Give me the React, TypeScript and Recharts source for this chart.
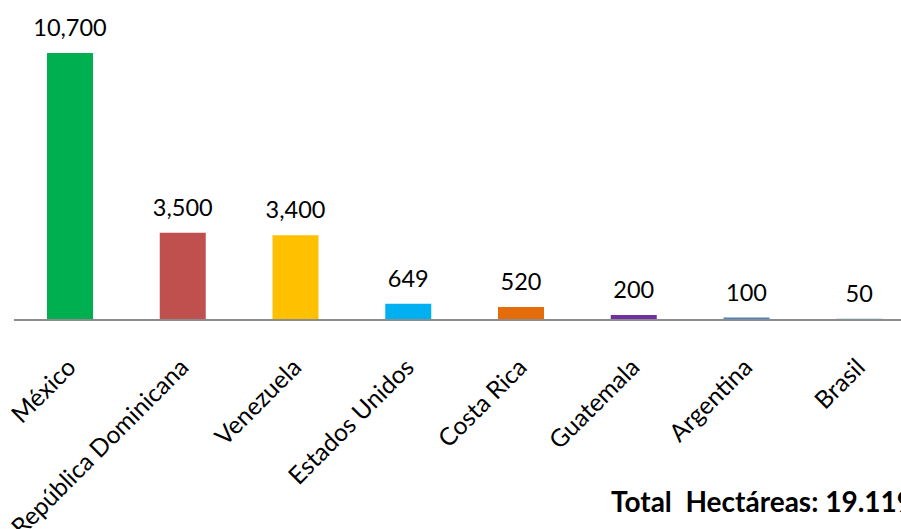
import React from 'react';
import { BarChart, Bar, XAxis, YAxis, Cell, LabelList } from 'recharts';

const countries = [
    'México', 'República Dominicana', 'Venezuela', 'Estados Unidos',
    'Costa Rica', 'Guatemala', 'Argentina', 'Brasil'
];
const hectares = [10700, 3500, 3400, 649, 520, 200, 100, 50];
const barColors = [
    '#00B050', '#C0504D', '#FFC000', '#00B0F0',
    '#E46C0A', '#7030A0', '#4F81BD', '#4BACC6'
];

const FONT = 'Lato, "Open Sans", sans-serif';

const data = countries.map((name, i) => ({ name, value: hectares[i] }));

const CountryTick = ({ x, y, payload }: any) => (
    <text
        x={x + 7}
        y={y + 41}
        transform={`rotate(-45, ${x + 7}, ${y + 41})`}
        textAnchor="end"
        fontSize={24.5}
        fontFamily={FONT}
        fill="#000"
    >
        {payload.value}
    </text>
);

const ValueLabel = ({ x, y, width, value }: any) => (
    <text
        x={x + width / 2}
        y={y - 17}
        textAnchor="middle"
        fontSize={23.5}
        fontFamily={FONT}
        fill="#000"
    >
        {Number(value).toLocaleString('en-US')}
    </text>
);

export default function App() {
    return (
        <div style={{ position: 'absolute', left: 0, top: 0, width: 901, height: 529, overflow: 'hidden', background: '#fff' }}>
            <BarChart
                width={918}
                height={529}
                data={data}
                margin={{ top: 53, right: 2, bottom: 0, left: 14 }}
            >
                <XAxis
                    dataKey="name"
                    height={209}
                    interval={0}
                    tickLine={false}
                    axisLine={{ stroke: '#8C8C8C', strokeWidth: 2 }}
                    tick={<CountryTick />}
                />
                <YAxis hide domain={[0, 10700]} allowDataOverflow />
                <Bar dataKey="value" barSize={46} isAnimationActive={false}>
                    {data.map((entry, index) => (
                        <Cell key={`cell-${index}`} fill={barColors[index]} />
                    ))}
                    <LabelList dataKey="value" content={<ValueLabel />} />
                </Bar>
            </BarChart>
            <div
                style={{
                    position: 'absolute',
                    left: 611,
                    top: 484,
                    fontFamily: FONT,
                    fontWeight: 'bold',
                    fontSize: 28,
                    whiteSpace: 'pre',
                    color: '#000'
                }}
            >
                {'Total  Hectáreas: 19.119'}
            </div>
        </div>
    );
}
